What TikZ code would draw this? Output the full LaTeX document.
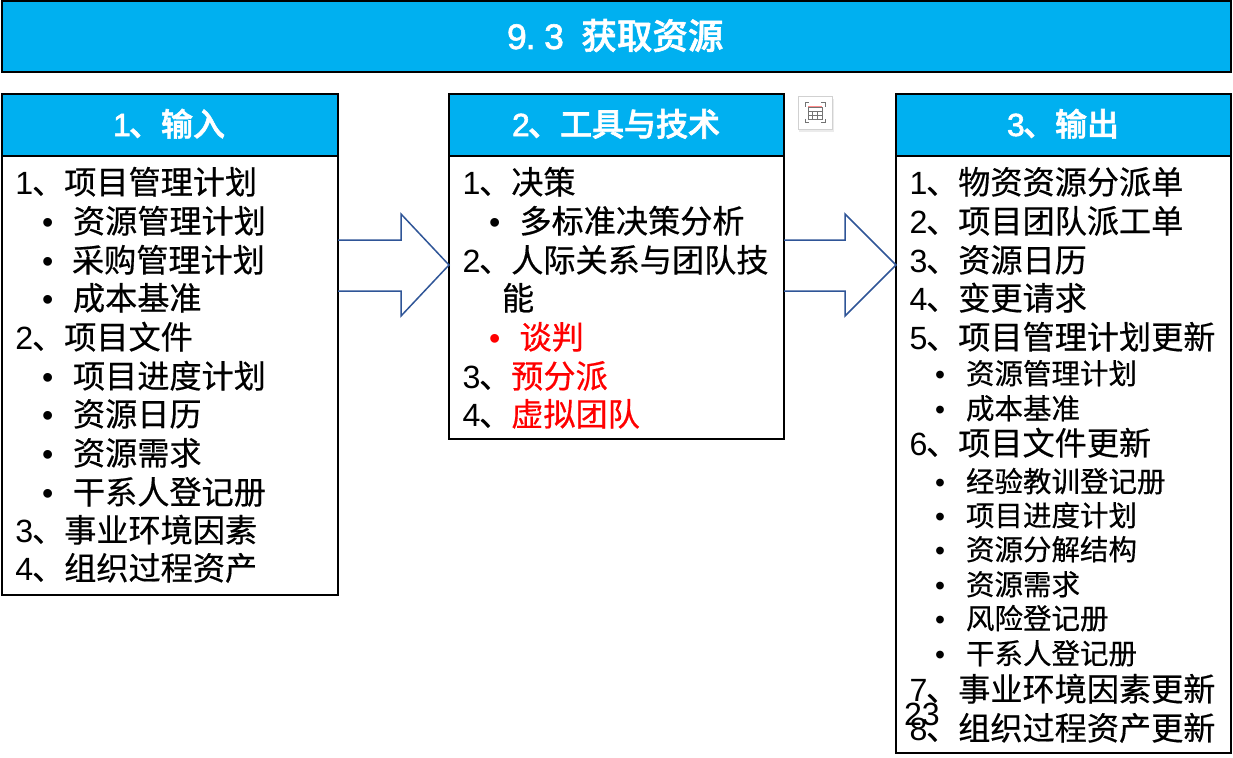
\documentclass[tikz,border=0pt]{standalone}
\usepackage{fontspec}
\setmainfont{Liberation Sans}
\newfontfamily\cj[FakeBold=0.5]{Noto Sans CJK SC}
\newfontfamily\cjm{Noto Sans CJK SC Medium}
\newcommand{\wbold}[1]{\special{pdf:code q 2 Tr 0.6 w 1 1 1 RG}#1\special{pdf:code Q}}
\definecolor{hdr}{HTML}{00B0F0}
\definecolor{arrowblue}{HTML}{2F5597}
\definecolor{redtx}{HTML}{FF0000}
\tikzset{
  x=1pt,y=-1pt,
  boxbody/.style={draw=black,line width=2pt,fill=white,anchor=north west,inner sep=0pt,outer sep=0pt,minimum width=336pt},
  boxhead/.style={boxbody,fill=hdr,minimum height=62pt},
  bigline/.style={anchor=base west,inner sep=0pt,outer sep=0pt,text=black,font=\fontsize{32.15}{38}\selectfont},
  subline/.style={anchor=base west,inner sep=0pt,outer sep=0pt,text=black,font=\fontsize{28.5}{34}\selectfont},
  headtext/.style={anchor=base west,inner sep=0pt,outer sep=0pt,text=white,font=\fontsize{32}{38}\selectfont},
  titletext/.style={anchor=base west,inner sep=0pt,outer sep=0pt,text=white,font=\fontsize{35.5}{40}\selectfont},
  blockarrow/.style={draw=arrowblue,line width=1.5pt,line join=miter},
}
\newcommand{\bul}{\textbullet}
\newcommand{\dg}[1]{\makebox[16.6pt][l]{#1}}
\newcommand{\hg}[1]{\makebox[16pt][l]{#1}}
\newcommand{\tg}[1]{\makebox[18.6pt][l]{#1}}
\begin{document}
\begin{tikzpicture}
\useasboundingbox (0,0) rectangle (1233,757);
% title
\node[boxbody,fill=hdr,minimum width=1229pt,minimum height=71pt] (titlebox) at (2,1) {};
\node[titletext] (titlelabel) at (507,49) {\wbold{\tg{9}\tg{.}\tg{3}\tg{\ }{\cjm 获取资源}}};
% boxes
\node[boxbody,minimum height=439pt] (inbody) at (2,156) {};
\node[boxhead] (inhead) at (2,94) {};
\node[boxbody,minimum width=335pt,minimum height=283pt] (toolbody) at (449,156) {};
\node[boxhead,minimum width=335pt] (toolhead) at (449,94) {};
\node[boxbody,minimum width=335pt,minimum height=597pt] (outbody) at (896,156) {};
\node[boxhead,minimum width=335pt] (outhead) at (896,94) {};
\node[headtext] (inlabel) at (113,136) {\wbold{\hg{1}{\cjm 、输入}}};
\node[headtext] (toollabel) at (512,136) {\wbold{\hg{2}{\cjm 、工具与技术}}};
\node[headtext] (outlabel) at (1007,136) {\wbold{\hg{3}{\cjm 、输出}}};
% arrows
\draw[blockarrow] (inbody.east |- 0,240) -- (401,240) -- (401,214) -- (toolbody.west |- 0,265) -- (401,316) -- (401,291) -- (inbody.east |- 0,291);
\draw[blockarrow] (toolbody.east |- 0,240) -- (845,240) -- (845,214) -- (outbody.west |- 0,265) -- (845,316) -- (845,291) -- (toolbody.east |- 0,291);
% icon
\fill[black!8] (799,99) rectangle (834,132);
\draw[black!18,fill=white,line width=1pt] (798,97) rectangle (832,129);
\draw[black!55,line width=1pt] (805,107) -- (805,103) -- (809,103) (821,103) -- (825,103) -- (825,107) (805,119) -- (805,123) -- (809,123) (821,123) -- (825,123) -- (825,119);
\fill[red!45] (808,106) rectangle (822,108);
\draw[black!55,line width=1pt] (808,108) rectangle (822,120) (808,112) -- (822,112) (808,116) -- (822,116) (812.5,112) -- (812.5,120) (817.5,112) -- (817.5,120);
% left column
\node[bigline] (a1) at (15.5,194) {\dg{1}{\cj 、项目管理计划}};
\node[bigline] (a1b) at (42,233) {\bul};
\node[bigline] (a1t) at (73,233) {\cj 资源管理计划};
\node[bigline] (a2b) at (42,272) {\bul};
\node[bigline] (a2t) at (72,272) {\cj 采购管理计划};
\node[bigline] (a3b) at (42,310) {\bul};
\node[bigline] (a3t) at (73,310) {\cj 成本基准};
\node[bigline] (a4) at (15.5,349) {\dg{2}{\cj 、项目文件}};
\node[bigline] (a5b) at (42,388) {\bul};
\node[bigline] (a5t) at (73,388) {\cj 项目进度计划};
\node[bigline] (a6b) at (42,426) {\bul};
\node[bigline] (a6t) at (73,426) {\cj 资源日历};
\node[bigline] (a7b) at (42,465) {\bul};
\node[bigline] (a7t) at (73,465) {\cj 资源需求};
\node[bigline] (a8b) at (42,504) {\bul};
\node[bigline] (a8t) at (73,504) {\cj 干系人登记册};
\node[bigline] (a9) at (15.5,542) {\dg{3}{\cj 、事业环境因素}};
\node[bigline] (a10) at (15.5,580) {\dg{4}{\cj 、组织过程资产}};
% middle column
\node[bigline] (b1) at (462.5,194) {\dg{1}{\cj 、决策}};
\node[bigline] (b2b) at (489,233) {\bul};
\node[bigline] (b2t) at (519.5,233) {\cj 多标准决策分析};
\node[bigline] (b3) at (462.5,272) {\dg{2}{\cj 、人际关系与团队技}};
\node[bigline] (b3c) at (502,310) {\cj 能};
\node[bigline,text=redtx] (b4b) at (489,349) {\bul};
\node[bigline,text=redtx] (b4t) at (519.5,349) {\cj 谈判};
\node[bigline] (b5) at (462.5,388) {\dg{3}{\cj 、\textcolor{redtx}{预分派}}};
\node[bigline] (b6) at (462.5,426) {\dg{4}{\cj 、\textcolor{redtx}{虚拟团队}}};
% right column
\node[bigline] (c1) at (909.5,194) {\dg{1}{\cj 、物资资源分派单}};
\node[bigline] (c2) at (909.5,233) {\dg{2}{\cj 、项目团队派工单}};
\node[bigline] (c3) at (909.5,272) {\dg{3}{\cj 、资源日历}};
\node[bigline] (c4) at (909.5,310) {\dg{4}{\cj 、变更请求}};
\node[bigline] (c5) at (909.5,349) {\dg{5}{\cj 、项目管理计划更新}};
\node[subline] (c6b) at (935,384) {\bul};
\node[subline] (c6t) at (966,384) {\cj 资源管理计划};
\node[subline] (c7b) at (935,419) {\bul};
\node[subline] (c7t) at (966,419) {\cj 成本基准};
\node[bigline] (c8) at (909.5,455) {\dg{6}{\cj 、项目文件更新}};
\node[subline] (c9b) at (935,492) {\bul};
\node[subline] (c9t) at (966,492) {\cj 经验教训登记册};
\node[subline] (c10b) at (935,526) {\bul};
\node[subline] (c10t) at (966,526) {\cj 项目进度计划};
\node[subline] (c11b) at (935,560) {\bul};
\node[subline] (c11t) at (966,560) {\cj 资源分解结构};
\node[subline] (c12b) at (935,595) {\bul};
\node[subline] (c12t) at (966,595) {\cj 资源需求};
\node[subline] (c13b) at (935,629) {\bul};
\node[subline] (c13t) at (966,629) {\cj 风险登记册};
\node[subline] (c14b) at (935,664) {\bul};
\node[subline] (c14t) at (966,664) {\cj 干系人登记册};
\node[bigline] (c15) at (909.5,701) {\dg{7}{\cj 、事业环境因素更新}};
\node[bigline] (c16) at (909.5,740) {\dg{8}{\cj 、组织过程资产更新}};
\node[bigline] (pagenum) at (904,725) {23};
\end{tikzpicture}
\end{document}
